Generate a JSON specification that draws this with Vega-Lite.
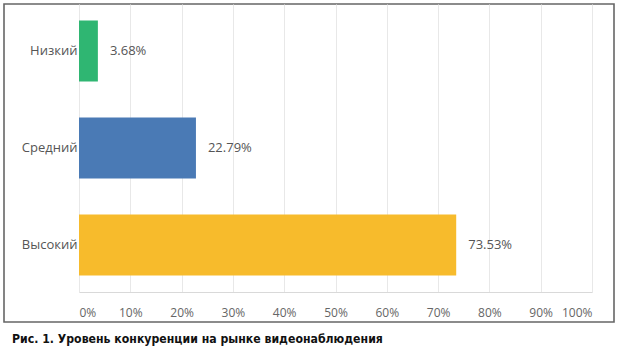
{
  "$schema": "https://vega.github.io/schema/vega-lite/v6.json",
  "width": 610,
  "height": 318,
  "autosize": {"type": "none"},
  "padding": {"left": 4, "top": 4, "right": 8, "bottom": 33},
  "background": "white",
  "config": {
    "view": {"stroke": "#666666", "strokeWidth": 1.6},
    "font": "Open Sans"
  },
  "title": {
    "text": "Рис. 1. Уровень конкуренции на рынке видеонаблюдения",
    "orient": "bottom",
    "anchor": "start",
    "offset": 11,
    "dx": 8,
    "font": "DejaVu Sans Condensed",
    "fontSize": 12.2,
    "fontWeight": "bold",
    "color": "#111111",
    "baseline": "top"
  },
  "data": {
    "values": [
      {"level": "Низкий", "value": 3.68, "label": "3.68%"},
      {"level": "Средний", "value": 22.79, "label": "22.79%"},
      {"level": "Высокий", "value": 73.53, "label": "73.53%"}
    ]
  },
  "encoding": {
    "y": {
      "field": "level",
      "type": "nominal",
      "sort": ["Низкий", "Средний", "Высокий"],
      "scale": {"range": [0, 288], "paddingInner": 0.37, "paddingOuter": 0.17},
      "axis": {
        "title": null,
        "offset": -75,
        "domain": false,
        "ticks": false,
        "grid": false,
        "labelPadding": 2,
        "labelFontSize": 13,
        "labelColor": "#555555",
        "labelFont": "Open Sans"
      }
    },
    "x": {
      "field": "value",
      "type": "quantitative",
      "scale": {"domain": [0, 100], "range": [75, 588], "nice": false},
      "axis": {
        "title": null,
        "offset": -30,
        "values": [0, 10, 20, 30, 40, 50, 60, 70, 80, 90, 100],
        "labelExpr": "datum.value + '%'",
        "labelFlush": true,
        "labelPadding": 303,
        "labelFontSize": 12,
        "labelColor": "#666666",
        "grid": false,
        "ticks": true,
        "tickSize": -288,
        "tickColor": "#e8e8e8",
        "domainColor": "#d9d9d9"
      }
    }
  },
  "layer": [
    {
      "mark": {"type": "bar"},
      "encoding": {
        "color": {
          "field": "level",
          "type": "nominal",
          "scale": {"domain": ["Низкий", "Средний", "Высокий"], "range": ["#2fb672", "#4a7ab5", "#f7bb2c"]},
          "legend": null
        }
      }
    },
    {
      "mark": {"type": "text", "align": "left", "baseline": "middle", "dx": 12, "fontSize": 13, "color": "#555555"},
      "encoding": {"text": {"field": "label"}}
    }
  ]
}
